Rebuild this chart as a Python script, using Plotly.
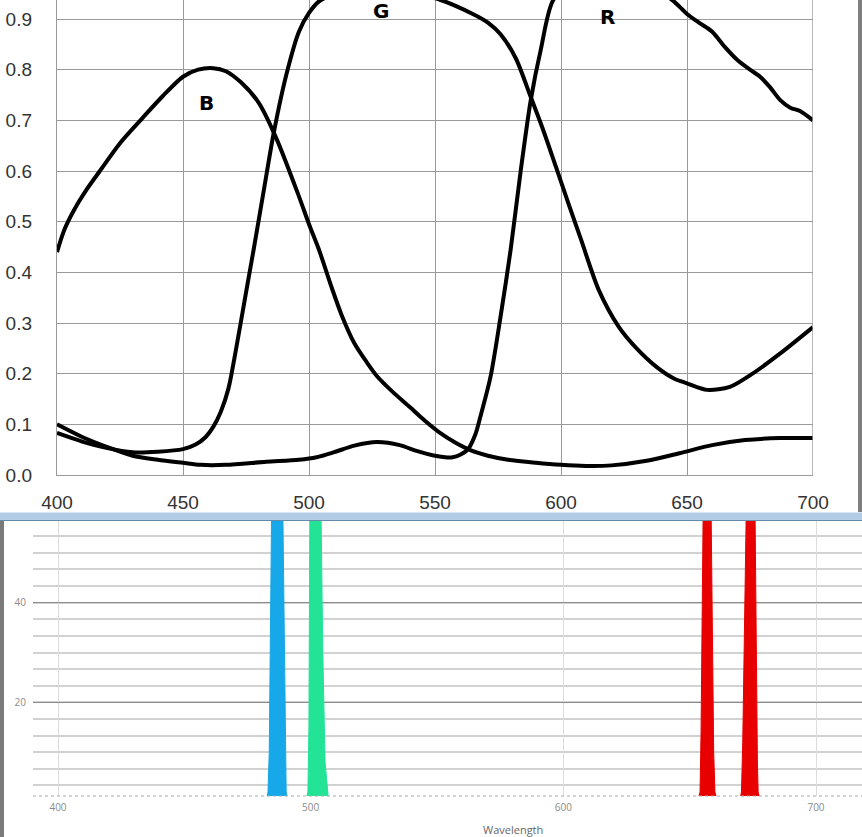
import plotly.graph_objects as go

W, H = 862, 837

# ---------------- top chart data (spectral sensitivity) ----------------
b_wl = [400, 403, 407, 412, 417, 425, 434, 442, 450, 456, 462, 467, 473, 480, 487, 496, 500, 504, 509, 513, 518,
        523, 527, 533, 540, 546, 552, 558, 564, 571, 579, 590, 600, 610, 620, 634, 647, 660, 673, 687, 700]
b_val = [0.44, 0.485, 0.525, 0.565, 0.60, 0.655, 0.705, 0.748, 0.786, 0.800, 0.803, 0.797, 0.775, 0.735, 0.665,
         0.55, 0.495, 0.444, 0.37, 0.315, 0.26, 0.222, 0.195, 0.165, 0.134, 0.107, 0.083, 0.064, 0.049, 0.038,
         0.030, 0.024, 0.020, 0.018, 0.019, 0.028, 0.043, 0.059, 0.069, 0.073, 0.073]

g_wl = [400, 410, 420, 430, 440, 450, 455, 459, 462, 465, 468, 471, 475, 478, 482, 486, 491, 496, 500, 504, 510,
        520, 530, 540, 552, 565, 571, 576, 582, 588, 593, 598, 603, 608, 615, 623, 630, 638, 645, 650, 658,
        667, 676, 687, 700]
g_val = [0.083, 0.066, 0.053, 0.045, 0.046, 0.051, 0.060, 0.075, 0.095, 0.125, 0.17, 0.247, 0.36, 0.444, 0.56,
         0.675, 0.79, 0.875, 0.912, 0.935, 0.948, 0.955, 0.955, 0.952, 0.938, 0.91, 0.893, 0.87, 0.823, 0.746,
         0.68, 0.608, 0.535, 0.464, 0.365, 0.292, 0.25, 0.213, 0.19, 0.181, 0.168, 0.174, 0.20, 0.24, 0.292]

r_wl = [400, 410, 420, 430, 440, 450, 457, 467, 483, 496, 503, 510, 518, 527, 536, 543, 549, 554, 557, 560, 563,
        566, 568, 572, 576, 580, 584, 588, 592, 597, 605, 618, 630, 644, 650, 655, 660, 665, 670, 675, 679, 683,
        687, 691, 695, 700]
r_val = [0.10, 0.075, 0.055, 0.038, 0.030, 0.024, 0.020, 0.020, 0.026, 0.030, 0.035, 0.045, 0.058, 0.065, 0.059,
         0.047, 0.039, 0.035, 0.035, 0.040, 0.050, 0.080, 0.115, 0.193, 0.312, 0.444, 0.60, 0.74, 0.84, 0.938,
         0.97, 0.985, 0.975, 0.938, 0.91, 0.892, 0.875, 0.845, 0.819, 0.80, 0.786, 0.765, 0.74, 0.725, 0.718, 0.70]

curve_labels = ["B", "G", "R"]
label_wl = [459.5, 528.6, 618.6]
label_val = [0.734, 0.915, 0.904]

top_xticks = [400, 450, 500, 550, 600, 650, 700]
top_yticks = [0.0, 0.1, 0.2, 0.3, 0.4, 0.5, 0.6, 0.7, 0.8, 0.9]

# ---------------- bottom chart data (emission spectrum) ----------------
blue_wl = [482.8, 483.1, 483.6, 484.0, 484.6, 488.9, 489.5, 490.0, 490.3, 490.6]
blue_val = [1.2, 2, 10, 28, 62, 62, 35, 10, 2, 1.2]
green_wl = [498.5, 498.9, 499.3, 499.7, 504.0, 504.8, 505.7, 506.5, 506.9]
green_val = [1.2, 2, 15, 62, 62, 30, 8, 2, 1.2]
red1_wl = [653.7, 654.1, 654.5, 655.0, 655.4, 658.4, 658.9, 659.5, 660.0, 660.4]
red1_val = [1.2, 2, 14, 40, 62, 62, 35, 10, 2, 1.2]
red2_wl = [670.2, 670.5, 671.0, 671.6, 672.5, 675.8, 676.3, 676.8, 677.1, 677.5]
red2_val = [1.2, 2, 12, 35, 62, 62, 30, 8, 2, 1.2]
peak_colors = ["#16A8E8", "#22E396", "#E80000", "#E80000"]

bottom_xticks = [400, 500, 600, 700]
bottom_yticks = [20, 40]


def px_x(x):
    return x / W


def px_y(y):
    return 1 - y / H


fig = go.Figure()

# top curves
for wl, val in [(b_wl, b_val), (g_wl, g_val), (r_wl, r_val)]:
    fig.add_trace(go.Scatter(x=wl, y=val, mode="lines", xaxis="x", yaxis="y",
                             line=dict(color="black", width=4, shape="spline", smoothing=0.8),
                             hoverinfo="skip", showlegend=False))

for t, xw, yv in zip(curve_labels, label_wl, label_val):
    fig.add_annotation(x=xw, y=yv, xref="x", yref="y", text=t, showarrow=False,
                       font=dict(family="DejaVu Sans", size=20, color="black", weight=900))

# bottom peaks
for wl, val, col in zip([blue_wl, green_wl, red1_wl, red2_wl],
                        [blue_val, green_val, red1_val, red2_val], peak_colors):
    fig.add_trace(go.Scatter(x=wl, y=val, mode="lines", xaxis="x2", yaxis="y2",
                             fill="toself", fillcolor=col, line=dict(color=col, width=1),
                             hoverinfo="skip", showlegend=False))

top_font = dict(family="Liberation Sans, Arial", size=19, color="#333333")
bot_font = dict(family="Open Sans, Liberation Sans", size=10, color="#8a8a8a")

fig.update_layout(
    width=W, height=H, autosize=False,
    margin=dict(l=0, r=0, t=0, b=0),
    paper_bgcolor="white", plot_bgcolor="white",
    xaxis=dict(domain=[px_x(57), px_x(813)], range=[400, 700], tickmode="array", tickvals=top_xticks,
               showgrid=True, gridcolor="#9a9a9a", gridwidth=1.4, zeroline=False,
               showline=True, linecolor="#9a9a9a", linewidth=1.4, ticks="",
               tickfont=top_font, ticklabelstandoff=10, automargin=False, anchor="y"),
    yaxis=dict(domain=[px_y(475), 1.0], range=[0, 0.9375], tickmode="array", tickvals=top_yticks,
               tickformat=".1f", showgrid=True, gridcolor="#9a9a9a", gridwidth=1.4, zeroline=False,
               showline=True, linecolor="#9a9a9a", linewidth=1.4, ticks="",
               tickfont=top_font, ticklabelstandoff=20, automargin=False, anchor="x"),
    xaxis2=dict(domain=[px_x(33), 1.0], range=[390.1, 718.2], tickmode="array", tickvals=bottom_xticks,
                showgrid=True, gridcolor="#dcdcdc", gridwidth=1, zeroline=False, showline=False,
                ticks="", tickfont=bot_font, ticklabelstandoff=4, automargin=False, anchor="y2"),
    yaxis2=dict(domain=[px_y(796), px_y(521)], range=[1.2, 56.4], tickmode="array", tickvals=bottom_yticks,
                showgrid=True, gridcolor="#8c8c8c", gridwidth=1.3, zeroline=False, showline=False,
                ticks="", tickfont=bot_font, ticklabelstandoff=6, automargin=False, anchor="x2",
                minor=dict(tickmode="linear", tick0=0, dtick=20 / 6, showgrid=True,
                           gridcolor="#d2d2d2", gridwidth=1.5)),
)

shapes = [
    # right edge line of the top plot at 700
    dict(type="line", xref="x", yref="y", x0=700, x1=700, y0=0, y1=0.9375,
         line=dict(color="#9a9a9a", width=1.4)),
    # gray bar at right of top picture
    dict(type="rect", xref="paper", yref="paper", x0=px_x(858), x1=1.0, y0=px_y(512), y1=1.0,
         fillcolor="#7f7f7f", line=dict(width=0)),
    # light-blue separator band
    dict(type="rect", xref="paper", yref="paper", x0=0, x1=1.0, y0=px_y(519.5), y1=px_y(512.5),
         fillcolor="#B3CCE6", line=dict(width=0)),
    dict(type="line", xref="paper", yref="paper", x0=0, x1=1.0, y0=px_y(520.3), y1=px_y(520.3),
         line=dict(color="#3d6e92", width=1)),
    # gray bar at left of bottom picture
    dict(type="rect", xref="paper", yref="paper", x0=0, x1=px_x(4), y0=0, y1=px_y(521),
         fillcolor="#7a7a7a", line=dict(width=0)),
    # dotted baseline of spectrum
    dict(type="line", xref="paper", yref="paper", x0=px_x(33), x1=1.0, y0=px_y(796), y1=px_y(796),
         line=dict(color="#a8a8a8", width=1, dash="dot")),
]
fig.update_layout(shapes=shapes)

fig.add_annotation(x=px_x(513), y=px_y(820), xref="paper", yref="paper", text="Wavelength",
                   showarrow=False, yanchor="top",
                   font=dict(family="Open Sans, Liberation Sans", size=11, color="#666666"))

fig.write_html("out.html")
